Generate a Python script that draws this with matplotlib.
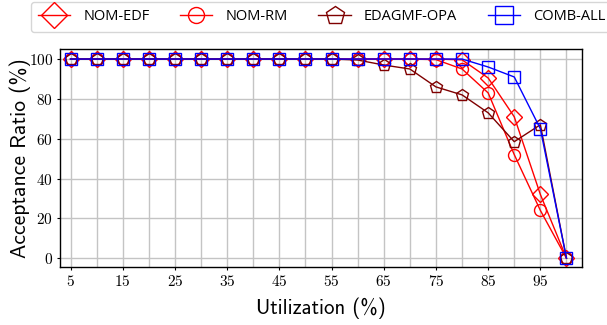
import matplotlib
matplotlib.use("Agg")
import matplotlib.pyplot as plt
import numpy as np

plt.rcParams['mathtext.fontset'] = 'cm'

# utilization (%) and acceptance ratio (%) per method
util = [5, 10, 15, 20, 25, 30, 35, 40, 45, 50, 55, 60, 65, 70, 75, 80, 85, 90, 95, 100]
nom_edf = [100] * 15 + [99.6, 90.5, 71, 32, 0]
nom_rm = [100] * 14 + [99.7, 95, 83, 52, 24, 0]
edagmf_opa = [100] * 11 + [99.5, 97, 95, 86, 82, 73, 58.5, 67, 0]
comb_all = [100] * 16 + [96, 91, 65, 0]

xticks = [5, 15, 25, 35, 45, 55, 65, 75, 85, 95]
yticks = [0, 20, 40, 60, 80, 100]

fig = plt.figure(figsize=(6.07, 3.25), dpi=100)
ax = fig.add_axes([0.099, 0.178, 0.86, 0.671])

# values, label, marker, colour, legend marker size
series = [
    (nom_edf, 'NOM-EDF', 'D', '#ff0000', 13),
    (nom_rm, 'NOM-RM', 'o', '#ff0000', 11.5),
    (edagmf_opa, 'EDAGMF-OPA', 'p', '#7f0000', 13.5),
    (comb_all, 'COMB-ALL', 's', '#0000ff', 12.5),
]
for vals, name, mk, col, lms in series:
    ax.plot(util, vals, color=col, marker=mk, markersize=8.6, fillstyle='none',
            markeredgewidth=1.0, linewidth=1.0, label=name, zorder=3)

ax.set_xlim(3, 103)
ax.set_ylim(-4.5, 105)
ax.set_xticks(xticks)
ax.set_xticks([10, 20, 30, 40, 50, 60, 70, 80, 90, 100], minor=True)
ax.set_xticklabels([r'$%d$' % t for t in xticks], fontsize=11)
ax.set_yticks(yticks)
ax.set_yticklabels([r'$%d$' % t for t in yticks], fontsize=11)
ax.tick_params(axis='both', which='major', direction='out', length=2, width=0.8, pad=3)
ax.tick_params(axis='x', which='minor', length=0)
ax.grid(True, which='both', color='#c4c4c4', linewidth=1.0, zorder=0)
ax.set_axisbelow(True)
for s in ax.spines.values():
    s.set_linewidth(1.0)

ax.set_xlabel('Utilization (%)', fontsize=15, fontfamily='cmss10', labelpad=6)
ax.set_ylabel('Acceptance Ratio (%)', fontsize=15.5, fontfamily='cmss10')
ax.yaxis.set_label_coords(-0.056, 0.5)

leg = fig.legend(loc='upper left', bbox_to_anchor=(31 / 607, 1 - 2 / 325), ncol=4,
                 prop={'family': 'Open Sans', 'size': 10.5}, handlelength=2.2,
                 columnspacing=2.1, handletextpad=0.9, borderpad=0.5,
                 borderaxespad=0, fancybox=True, edgecolor='#cccccc')
for h, s in zip(leg.legend_handles, series):
    h.set_markersize(s[4])

fig.savefig('out.png', dpi=100)
